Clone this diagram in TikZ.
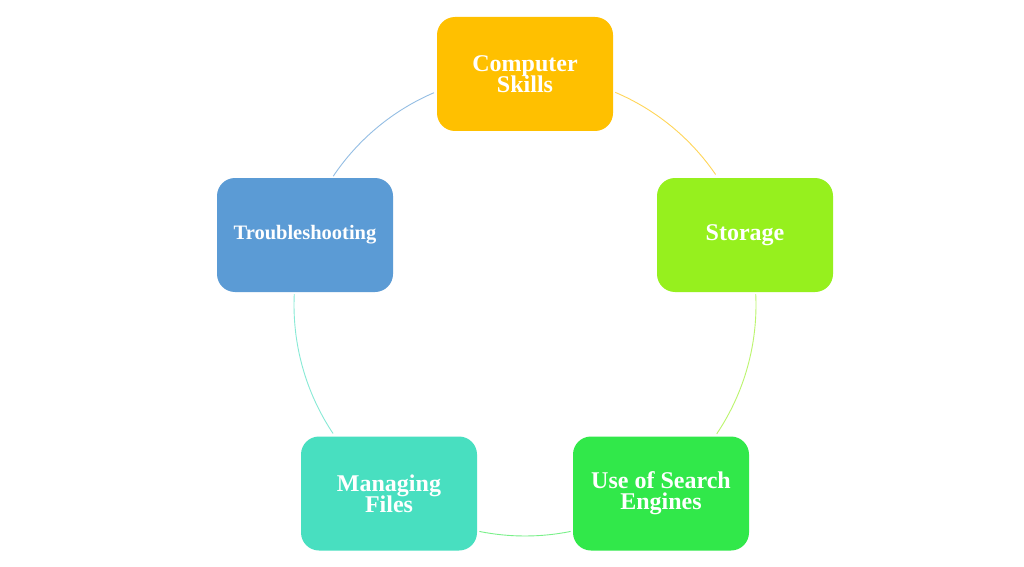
\documentclass[tikz,border=0pt]{standalone}
\usepackage{fontspec}
\setmainfont{Liberation Serif}
\definecolor{cskill}{HTML}{FFC000}
\definecolor{cstore}{HTML}{96F01E}
\definecolor{csearch}{HTML}{31E84A}
\definecolor{cmanage}{HTML}{48DFC0}
\definecolor{ctrouble}{HTML}{5B9BD5}
\newcommand\mytightlines{\lineskiplimit=-30pt\relax\lineskip=0pt\relax}
\tikzset{
  topic/.style={draw=none, rounded corners=18pt, minimum width=176pt, minimum height=114pt,
    text=white, align=center, font=\bfseries\fontsize{24}{21}\selectfont\mytightlines, inner sep=0pt},
  ring/.style={line width=0.9pt}
}
\begin{document}
\begin{tikzpicture}[x=1pt,y=1pt]
\useasboundingbox (0,0) rectangle (1024,566);
\fill[white] (0,0) rectangle (1024,566);
\coordinate (ctr) at (525,261);
\node[topic, fill=cskill] (cs) at (525,492) {Computer\\Skills};
\node[topic, fill=cstore] (st) at (745,331) {Storage};
\node[topic, fill=csearch] (se) at (661,72.5) {Use of Search\\Engines};
\node[topic, fill=cmanage] (mf) at (389,72.5) {Managing\\Files};
\node[topic, fill=ctrouble, font=\bfseries\fontsize{20.5}{21}\selectfont] (tr) at (305,331) {Troubleshooting};
\draw[ring, cskill!65] (ctr) ++(67:231) arc (67:34.4:231);
\draw[ring, cstore!65] (ctr) ++(2.7:231) arc (2.7:-33.9:231);
\draw[ring, csearch!65] (ctr) ++(-78.6:231) arc (-78.6:-101.4:231);
\draw[ring, cmanage!65] (ctr) ++(-146.2:231) arc (-146.2:-182.7:231);
\draw[ring, ctrouble!65] (ctr) ++(146.1:231) arc (146.1:113.2:231);
\end{tikzpicture}
\end{document}
